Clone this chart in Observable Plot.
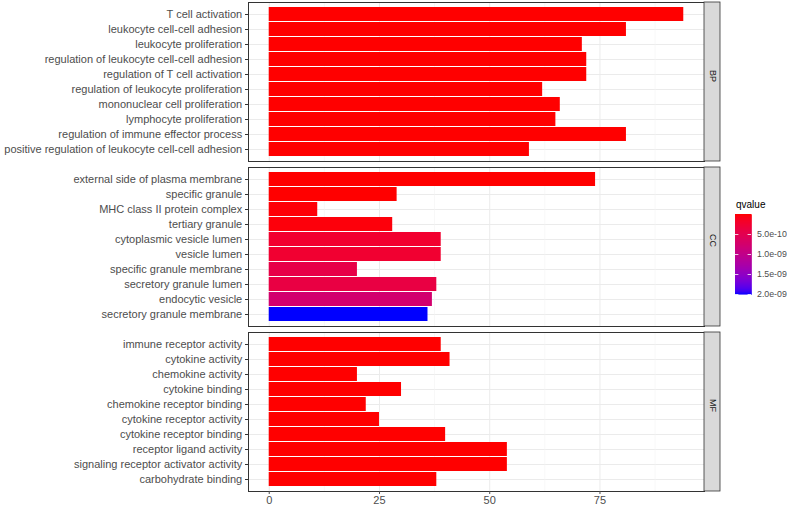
<!DOCTYPE html>
<html>
<head>
<meta charset="utf-8">
<script src="https://cdn.jsdelivr.net/npm/d3@7"></script>
<script src="https://cdn.jsdelivr.net/npm/@observablehq/plot@0.6"></script>
<style>
  body { margin: 0; background: #fff; }
  #wrap { position: relative; width: 787px; height: 507px; font-family: "Liberation Sans", Arial, sans-serif; }
  #legend-title { position: absolute; left: 736px; top: 199px; font-size: 10px; color: #000; }
  #legend { position: absolute; left: 735px; top: 212px; }
  svg { overflow: visible; }
</style>
</head>
<body>
<div id="wrap">
  <div id="chart"></div>
  <div id="legend-title">qvalue</div>
  <div id="legend"></div>
</div>
<script>
// categorias (paneles)
const cats = ["BP", "CC", "MF"]

const bpTerms = [
  "T cell activation",
  "leukocyte cell-cell adhesion",
  "leukocyte proliferation",
  "regulation of leukocyte cell-cell adhesion",
  "regulation of T cell activation",
  "regulation of leukocyte proliferation",
  "mononuclear cell proliferation",
  "lymphocyte proliferation",
  "regulation of immune effector process",
  "positive regulation of leukocyte cell-cell adhesion"
]
const bpCounts = [94, 81, 71, 72, 72, 62, 66, 65, 81, 59]
const bpQ = [3.1e-26, 4.5e-22, 2.2e-20, 1.8e-21, 6.3e-21, 3.9e-19, 5.2e-19, 8.8e-19, 2.7e-18, 4.1e-18]

const ccTerms = [
  "external side of plasma membrane",
  "specific granule",
  "MHC class II protein complex",
  "tertiary granule",
  "cytoplasmic vesicle lumen",
  "vesicle lumen",
  "specific granule membrane",
  "secretory granule lumen",
  "endocytic vesicle",
  "secretory granule membrane"
]
const ccCounts = [74, 29, 11, 28, 39, 39, 20, 38, 37, 36]
const ccQ = [2.4e-23, 1.6e-12, 2.2e-11, 3.5e-11, 2.4e-10, 2.5e-10, 4.3e-10, 4.0e-10, 7.6e-10, 2.0e-9]

const mfTerms = [
  "immune receptor activity",
  "cytokine activity",
  "chemokine activity",
  "cytokine binding",
  "chemokine receptor binding",
  "cytokine receptor activity",
  "cytokine receptor binding",
  "receptor ligand activity",
  "signaling receptor activator activity",
  "carbohydrate binding"
]
const mfCounts = [39, 41, 20, 30, 22, 25, 40, 54, 54, 38]
const mfQ = [1.2e-20, 3.6e-18, 7.4e-17, 1.9e-16, 2.8e-15, 4.6e-15, 8.1e-15, 1.3e-14, 2.1e-14, 3.3e-14]

// ticks
const xTicks = [0, 25, 50, 75]
const xMinor = [12.5, 37.5, 62.5, 87.5]
const qTicks = [5e-10, 1e-9, 1.5e-9, 2e-9]

const xDomain = [-4.7, 98.7]
const qDomain = [0, 2e-9]

// tabla para Plot
const rows = []
const grupos = [[bpTerms, bpCounts, bpQ], [ccTerms, ccCounts, ccQ], [mfTerms, mfCounts, mfQ]]
grupos.forEach(([terms, counts, qs], k) => {
  terms.forEach((t, i) => rows.push({cat: cats[k], rank: i, term: t, count: counts[i], qvalue: qs[i]}))
})
const ranks = d3.range(10)

const colorOpts = {type: "linear", domain: qDomain, range: ["red", "blue"], interpolate: d3.interpolateLab}

// formato tipo R: 5.0e-10, 2.0e-09
const fmtQ = d => {
  const [m, e] = d.toExponential(1).split("e")
  const sign = e[0] === "-" ? "-" : "+"
  const num = e.replace(/^[-+]/, "").padStart(2, "0")
  return `${m}e${sign}${num}`
}

let chart = Plot.plot({
  width: 787,
  height: 507,
  marginLeft: 248,
  marginRight: 83,
  marginTop: 1,
  marginBottom: 14,
  style: {fontFamily: "Liberation Sans, Arial, sans-serif", fontSize: "11px", background: "white"},
  x: {domain: xDomain, label: null},
  y: {domain: ranks, padding: 0.1, label: null},
  fy: {domain: cats, paddingInner: 0.034, paddingOuter: 0, axis: null, label: null},
  color: colorOpts,
  marks: [
    Plot.gridY(ranks, {stroke: "#ebebeb", strokeOpacity: 1, strokeWidth: 1}),
    Plot.gridX(xMinor, {stroke: "#f2f2f2", strokeOpacity: 1, strokeWidth: 0.6}),
    Plot.gridX(xTicks, {stroke: "#ebebeb", strokeOpacity: 1, strokeWidth: 1}),
    Plot.barX(rows, {fy: "cat", y: "rank", x1: 0, x2: "count", fill: "qvalue"}),
    Plot.frame({stroke: "#333333", strokeWidth: 1}),
    // tira gris de la derecha
    Plot.rect(cats, {fy: d => d, x1: xDomain[1], x2: xDomain[1], insetRight: -16, fill: "#d9d9d9", stroke: "#333333", strokeWidth: 0.8}),
    Plot.text(cats, {fy: d => d, text: d => d, frameAnchor: "right", dx: 8, rotate: 90, fontSize: 9, fill: "#1a1a1a"}),
    Plot.axisY(ranks, {tickSize: 3, tickFormat: () => "", stroke: "#333333", label: null}),
    Plot.text(rows, {fy: "cat", y: "rank", text: "term", frameAnchor: "left", textAnchor: "end", dx: -6.3, fill: "#4d4d4d", fontSize: 11}),
    Plot.axisX(xTicks, {tickSize: 3, tickPadding: 2, fontSize: 11, color: "#4d4d4d", label: null})
  ]
})

d3.select('#chart').append(() => chart)

// leyenda vertical
const pasos = d3.range(80).map(i => [i / 80 * qDomain[1], (i + 1) / 80 * qDomain[1]])
let legend = Plot.plot({
  width: 52,
  height: 84,
  marginTop: 2,
  marginBottom: 2,
  marginLeft: 0,
  marginRight: 36,
  style: {fontFamily: "Liberation Sans, Arial, sans-serif", fontSize: "9px", background: "transparent"},
  x: {domain: [0, 1], axis: null},
  y: {domain: qDomain, reverse: true, axis: null},
  color: colorOpts,
  marks: [
    Plot.rect(pasos, {x1: 0, x2: 1, y1: d => d[0], y2: d => d[1], fill: d => (d[0] + d[1]) / 2, stroke: d => (d[0] + d[1]) / 2, strokeWidth: 0.6, shapeRendering: "crispEdges"}),
    Plot.tickY(qTicks, {y: d => d, stroke: "white", insetRight: 12.6, strokeWidth: 0.8}),
    Plot.tickY(qTicks, {y: d => d, stroke: "white", insetLeft: 12.6, strokeWidth: 0.8}),
    Plot.text(qTicks, {x: 1, y: d => d, text: fmtQ, textAnchor: "start", dx: 5.5, fontSize: 8.8, fill: "#4d4d4d"})
  ]
})

d3.select('#legend').append(() => legend)
</script>
</body>
</html>
